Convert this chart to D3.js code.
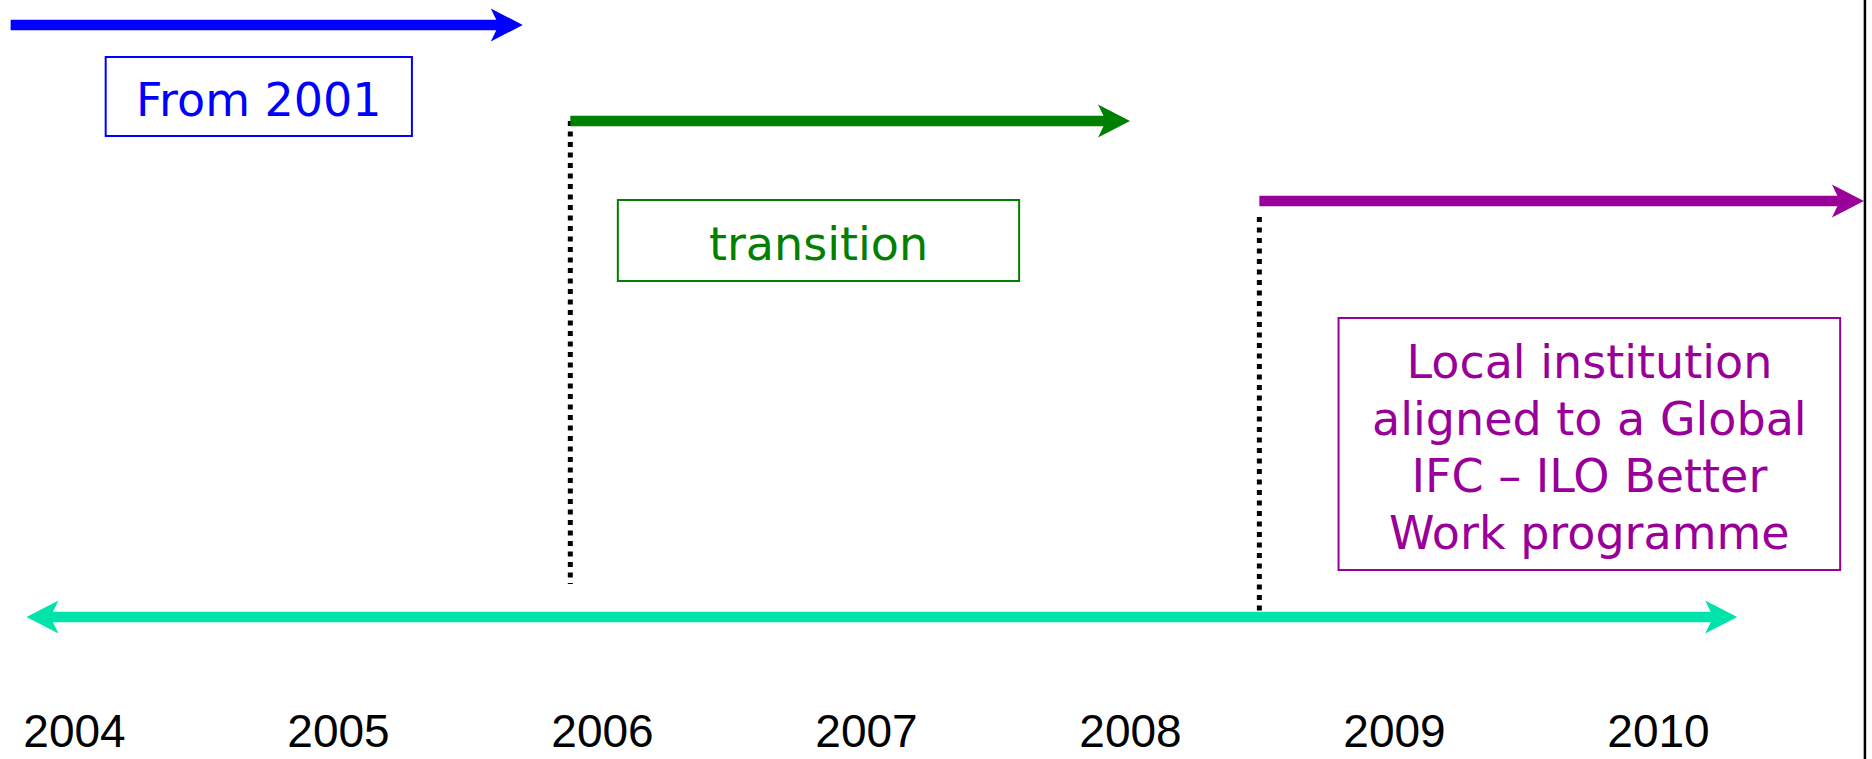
<!DOCTYPE html>
<html>
<head>
<meta charset="utf-8">
<script src="https://cdn.jsdelivr.net/npm/d3@7"></script>
<style>
  body { margin: 0; background: #fff; }
  svg { display: block; }
</style>
</head>
<body>
<div id="chart"></div>
<script>
// data: timeline years and the three phases (in years)
var years = [2004, 2005, 2006, 2007, 2008, 2009, 2010];
var phaseStart = [2003.76, 2005.88, 2008.49];
var phaseEnd = [2005.70, 2008.00, 2010.78];
var phaseLabels = [
  ["From 2001"],
  ["transition"],
  ["Local institution", "aligned to a Global", "IFC \u2013 ILO Better", "Work programme"]
];
// span of each label box, in years
var labelStart = [2004.12, 2006.06, 2008.79];
var labelEnd = [2005.28, 2007.58, 2010.69];
// overall period shown by the two-way arrow
var periodStart = 2003.82, periodEnd = 2010.30;

// styles / layout
var colors = ["#0000ff", "#008000", "#990099"];
var periodColor = "#00e3ab";
var rowY = [25, 121, 201];
var boxTop = [57, 200, 318], boxBottom = [136, 281, 570];
var guideTop = [0, 121, 217], guideBottom = [0, 584, 617];
var periodY = 617;

var width = 1872, height = 759;

var svg = d3.select("#chart")
  .append("svg")
    .attr("width", width)
    .attr("height", height);

var x = d3.scaleLinear()
  .domain([2004, 2010])
  .range([74, 1658]);

// arrow head: tip at (tx, y), pointing in dir (+1 right, -1 left)
var headLen = 32, headHalf = 16.5, headNotch = 8;
function head(g, tx, y, dir, color) {
  var pts = [
    [tx, y],
    [tx - dir * headLen, y - headHalf],
    [tx - dir * (headLen - headNotch), y],
    [tx - dir * headLen, y + headHalf]
  ];
  g.append("path")
    .attr("d", "M" + pts.join("L") + "Z")
    .attr("fill", color);
}

function arrow(g, x1, x2, y, color, both) {
  var inset = headLen - headNotch - 1;
  g.append("line")
    .attr("x1", both ? x1 + inset : x1)
    .attr("x2", x2 - inset)
    .attr("y1", y)
    .attr("y2", y)
    .attr("stroke", color)
    .attr("stroke-width", 10.5);
  head(g, x2, y, 1, color);
  if (both) head(g, x1, y, -1, color);
}

// right frame line
svg.append("line")
  .attr("x1", x(phaseEnd[2]) + 1)
  .attr("x2", x(phaseEnd[2]) + 1)
  .attr("y1", 0)
  .attr("y2", height)
  .attr("stroke", "#000")
  .attr("stroke-width", 2.5);

// dotted guides at start of phase 2 and 3
[1, 2].forEach(function(i) {
  svg.append("line")
    .attr("x1", x(phaseStart[i]))
    .attr("x2", x(phaseStart[i]))
    .attr("y1", guideTop[i])
    .attr("y2", guideBottom[i])
    .attr("stroke", "#000")
    .attr("stroke-width", 5)
    .attr("stroke-dasharray", "5,5.5");
});

// period arrow
arrow(svg.append("g"), x(periodStart), x(periodEnd), periodY, periodColor, true);

// phase arrows and label boxes
phaseLabels.forEach(function(lines, i) {
  var g = svg.append("g");
  arrow(g, x(phaseStart[i]), x(phaseEnd[i]), rowY[i], colors[i], false);

  g.append("rect")
    .attr("x", x(labelStart[i]))
    .attr("y", boxTop[i])
    .attr("width", x(labelEnd[i]) - x(labelStart[i]))
    .attr("height", boxBottom[i] - boxTop[i])
    .attr("fill", "none")
    .attr("stroke", colors[i])
    .attr("stroke-width", 2);

  var lineH = 57, cap = 34;
  var cx = (x(labelStart[i]) + x(labelEnd[i])) / 2;
  var cy = (boxTop[i] + boxBottom[i]) / 2;
  var firstBase = cy - (lines.length - 1) * lineH / 2 + cap / 2 + 2;
  g.selectAll("text")
    .data(lines)
    .enter()
    .append("text")
      .attr("x", cx)
      .attr("y", function(d, j) { return firstBase + j * lineH; })
      .attr("text-anchor", "middle")
      .attr("fill", colors[i])
      .style("font-family", "'DejaVu Sans', Verdana, sans-serif")
      .style("font-size", "46px")
      .text(function(d) { return d; });
});

// year labels
var axis = svg.append("g")
  .attr("transform", "translate(0,747)")
  .call(d3.axisBottom(x)
    .tickValues(years)
    .tickFormat(d3.format("d"))
    .tickSize(0)
    .tickPadding(0));
axis.select(".domain").remove();
axis.selectAll("text")
  .attr("dy", 0)
  .attr("fill", "#000")
  .style("font-family", "'Liberation Sans', Arial, sans-serif")
  .style("font-size", "46px");
</script>
</body>
</html>
